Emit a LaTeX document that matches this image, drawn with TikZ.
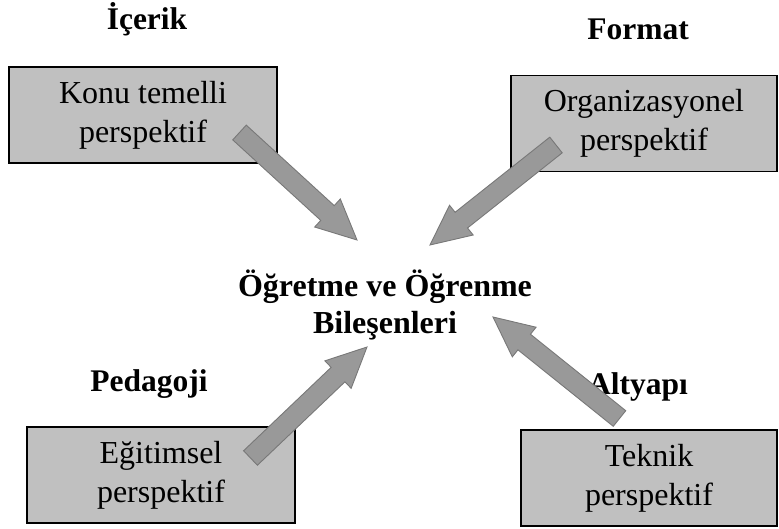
\documentclass[tikz,border=0pt]{standalone}
\usepackage{fontspec}
\setmainfont{Liberation Serif}
\usetikzlibrary{calc}
\definecolor{boxgray}{RGB}{192,192,192}
\definecolor{arrfill}{RGB}{153,153,153}
\definecolor{arredge}{RGB}{120,120,120}
\tikzset{
  persbox/.style={draw=black, line width=1.4pt, fill=boxgray, minimum width=#1, minimum height=96pt, inner sep=0pt, align=center, font=\fontsize{32}{39}\selectfont},
  persbox/.default=268pt,
  lbl/.style={anchor=base, font=\fontsize{31.5}{37}\selectfont\bfseries},
  arrowsty/.style={fill=arrfill, draw=arredge, line width=0.9pt, line join=miter}
}
\newcommand{\blockarrow}[3]{%
  \coordinate (#1n) at ($(#3)!40pt!(#2)$);
  \draw[arrowsty] ($(#2)!10pt!90:(#3)$) -- ($(#1n)!10pt!-90:(#2)$) -- ($(#1n)!19pt!-90:(#2)$) -- (#3) -- ($(#1n)!19pt!90:(#2)$) -- ($(#1n)!10pt!90:(#2)$) -- ($(#2)!10pt!-90:(#3)$) -- cycle;}
\begin{document}
\begin{tikzpicture}[x=1pt,y=-1pt]
\useasboundingbox (0,0) rectangle (779,529);
% boxes
\node[persbox] (konu) at (143,115) {Konu temelli\\perspektif};
\node[persbox=266pt] (org) at (644,123.5) {Organizasyonel\\perspektif};
\node[persbox] (egit) at (161,475) {Eğitimsel\\perspektif};
\node[persbox=256pt] (tek) at (649,478) {Teknik\\perspektif};
% labels
\node[lbl] (icerik) at (147,30) {İçerik};
\node[lbl] (format) at (638,40) {Format};
\node[lbl] (pedagoji) at (149,391) {Pedagoji};
\node[lbl] (altyapi) at (638,394) {Altyapı};
\node[font=\fontsize{32}{37}\selectfont\bfseries, align=center, inner sep=0pt] (center) at (385,305) {Öğretme ve Öğrenme\\Bileşenleri};
% arrow end points
\coordinate (a1t) at (239.5,132.5); \coordinate (a1h) at (357,240);
\coordinate (a2t) at (556,145);     \coordinate (a2h) at (430,245);
\coordinate (a3t) at (250.5,458);   \coordinate (a3h) at (367,347);
\coordinate (a4t) at (619.5,418.5); \coordinate (a4h) at (493,317);
\blockarrow{aa}{a1t}{a1h}
\blockarrow{ab}{a2t}{a2h}
\blockarrow{ac}{a3t}{a3h}
\blockarrow{ad}{a4t}{a4h}
\end{tikzpicture}
\end{document}
